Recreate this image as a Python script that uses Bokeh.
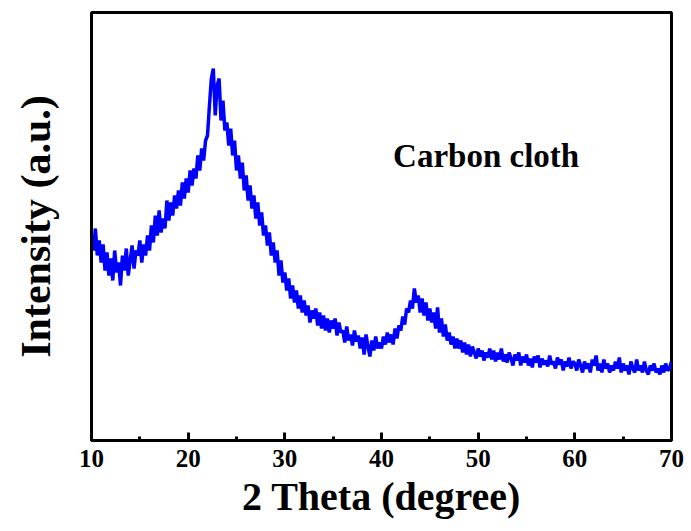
import numpy as np
from bokeh.plotting import figure
from bokeh.models import Label, FixedTicker, Range1d
from bokeh.embed import file_html
from bokeh.resources import INLINE

# 2 theta from 10 to 70 in 0.2 degree steps
two_theta_start = 10.0
two_theta_step = 0.2
intensity = [
    205, 190, 212, 185, 200,
    178, 196, 170, 188, 165,
    182, 160, 190, 168, 178,
    155, 185, 170, 192, 165,
    180, 195, 172, 190, 185,
    200, 178, 196, 185, 205,
    190, 215, 198, 225, 205,
    230, 208, 222, 212, 240,
    220, 238, 225, 245, 232,
    250, 235, 258, 242, 262,
    248, 270, 255, 272, 262,
    285, 270, 292, 280, 300,
    305, 335, 362, 372, 325,
    355, 362, 320, 340, 310,
    318, 295, 312, 285, 300,
    270, 285, 262, 278, 250,
    265, 240, 255, 232, 245,
    222, 238, 215, 228, 205,
    215, 195, 208, 185, 198,
    178, 190, 165, 180, 158,
    168, 150, 162, 142, 155,
    138, 150, 132, 145, 128,
    140, 125, 135, 118, 130,
    122, 132, 115, 128, 112,
    125, 110, 122, 108, 120,
    112, 122, 105, 118, 108,
    110, 98, 114, 100, 106,
    95, 110, 99, 105, 92,
    103, 86, 106, 94, 84,
    100, 90, 104, 92, 98,
    92, 104, 96, 108, 98,
    106, 96, 112, 102, 115,
    110, 124, 116, 132, 128,
    140, 132, 152, 138, 145,
    128, 142, 125, 138, 120,
    132, 118, 128, 112, 133,
    108, 122, 104, 116, 100,
    108, 96, 104, 92, 102,
    92, 100, 88, 98, 86,
    96, 84, 94, 88, 82,
    92, 84, 90, 80, 88,
    83, 92, 81, 90, 79,
    88, 81, 92, 79, 86,
    78, 88, 82, 75, 86,
    80, 88, 75, 84, 78,
    86, 75, 82, 73, 84,
    78, 85, 73, 82, 76,
    80, 74, 85, 76, 79,
    72, 83, 76, 81, 70,
    79, 74, 83, 72, 79,
    77, 70, 81, 75, 68,
    79, 72, 77, 68, 81,
    75, 85, 70, 77, 68,
    81, 72, 77, 68, 75,
    70, 79, 72, 83, 68,
    77, 70, 75, 66, 79,
    72, 68, 81, 70, 75,
    68, 79, 70, 66, 75,
    70, 77, 68, 72, 66,
    75, 68, 77, 70, 72,
    79,
]
x_ticks = [10, 20, 30, 40, 50, 60, 70]
x_minor_ticks = [15, 25, 35, 45, 55, 65]
annotation_text = "Carbon cloth"

two_theta = [two_theta_start + i * two_theta_step for i in range(len(intensity))]

p = figure(width=691, height=531, output_backend="svg", toolbar_location=None,
           x_range=Range1d(10, 70), y_range=Range1d(0, 428),
           min_border_left=91, min_border_right=20, min_border_top=12, min_border_bottom=91)

p.line(two_theta, intensity, line_color="#0000ff", line_width=3.5)

p.grid.visible = False
p.outline_line_color = "black"
p.outline_line_width = 3
p.background_fill_color = "white"
p.border_fill_color = "white"

serif = "Liberation Serif"
xa = p.xaxis[0]
xa.ticker = FixedTicker(ticks=x_ticks, minor_ticks=x_minor_ticks)
xa.axis_line_width = 3
xa.axis_line_color = "black"
xa.major_tick_in = 8
xa.major_tick_out = 0
xa.minor_tick_in = 4
xa.minor_tick_out = 0
xa.major_tick_line_width = 3
xa.minor_tick_line_width = 3
xa.major_label_text_font = serif
xa.major_label_text_font_style = "bold"
xa.major_label_text_font_size = "25px"
xa.major_label_text_color = "black"
xa.major_label_standoff = 9
xa.axis_label = "2 Theta (degree)"
xa.axis_label_text_font = serif
xa.axis_label_text_font_style = "bold"
xa.axis_label_text_font_size = "40px"
xa.axis_label_text_color = "black"
xa.axis_label_standoff = 4

ya = p.yaxis[0]
ya.ticker = FixedTicker(ticks=[])
ya.major_tick_line_color = None
ya.minor_tick_line_color = None
ya.axis_line_width = 3
ya.axis_line_color = "black"
ya.axis_label = "Intensity (a.u.)"
ya.axis_label_text_font = serif
ya.axis_label_text_font_style = "bold"
ya.axis_label_text_font_size = "42px"
ya.axis_label_text_color = "black"
ya.axis_label_standoff = 33

p.add_layout(Label(x=41.2, y=285, text=annotation_text, text_font=serif,
                   text_font_style="bold", text_font_size="33px",
                   text_baseline="middle", text_color="black"))

open("out.html", "w").write(file_html(p, INLINE))
